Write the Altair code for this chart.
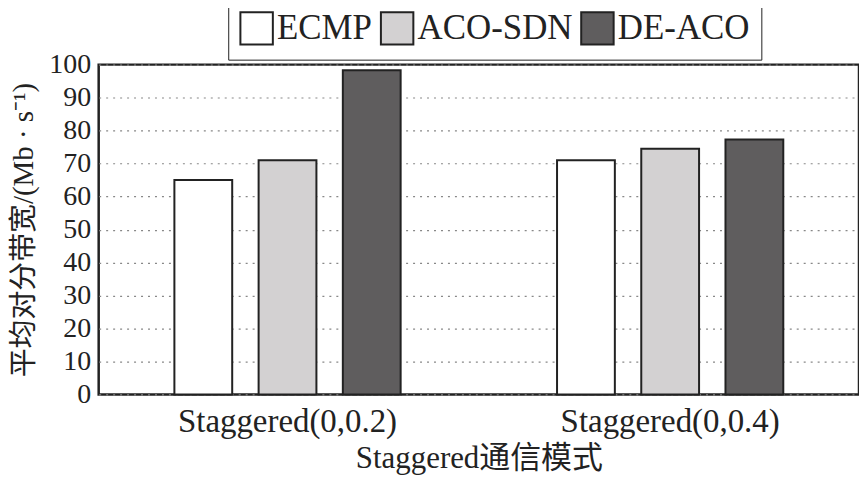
import altair as alt
import pandas as pd

groups = ["Staggered(0,0.2)", "Staggered(0,0.4)"]
methods = ["ECMP", "ACO-SDN", "DE-ACO"]
ecmp = [65, 71]
aco_sdn = [71, 74.5]
de_aco = [98.3, 77.3]
colors = ["#ffffff", "#d3d1d2", "#5f5d5e"]

rows = []
for i, g in enumerate(groups):
    for m, vals in zip(methods, [ecmp, aco_sdn, de_aco]):
        rows.append({"group": g, "method": m, "value": vals[i]})
df = pd.DataFrame(rows)

FONT = "'Liberation Serif', 'Noto Sans CJK SC', serif"

chart = alt.Chart(df).mark_bar(stroke="#222222", strokeWidth=2).encode(
    x=alt.X("group:N", sort=groups,
            scale=alt.Scale(paddingInner=0.013, paddingOuter=0),
            axis=alt.Axis(title="Staggered通信模式", labelAngle=0, ticks=False,
                          domain=False, labelPadding=11, titlePadding=5,
                          labelFontSize=33, titleFontSize=31, labelFont=FONT,
                          titleFont=FONT, titleFontWeight="normal",
                          labelColor="#222", titleColor="#222", labelLimit=400)),
    xOffset=alt.XOffset("method:N", sort=methods,
                        scale=alt.Scale(paddingInner=0.3136, paddingOuter=0.899)),
    y=alt.Y("value:Q", scale=alt.Scale(domain=[0, 100], nice=False),
            axis=alt.Axis(title="平均对分带宽/(Mb · s⁻¹)", values=list(range(0, 101, 10)),
                          ticks=False, domain=False, labelPadding=8,
                          labelFontSize=28, titleFontSize=29, labelFont=FONT,
                          titleFont=FONT, titleFontWeight="normal", titlePadding=10,
                          labelColor="#222", titleColor="#222",
                          grid=True, gridDash=[2, 5], gridColor="#888",
                          gridWidth=1.2)),
    fill=alt.Fill("method:N", sort=methods,
                  scale=alt.Scale(domain=methods, range=colors),
                  legend=alt.Legend(title=None, orient="none", legendX=130, legendY=-65,
                                    direction="horizontal", columns=3,
                                    symbolType="square", symbolSize=1060,
                                    symbolStrokeColor="#222", symbolStrokeWidth=2,
                                    labelFontSize=35, labelFont=FONT, labelColor="#222",
                                    columnPadding=4, labelOffset=3,
                                    strokeColor="#222", padding=11,
                                    symbolOpacity=1)),
).properties(
    width=763, height=331,
    autosize=alt.AutoSizeParams(type="none"),
    padding={"left": 91, "top": 56, "right": 0, "bottom": 81},
).configure(font=FONT).configure_view(stroke="#222222", strokeWidth=2.5)

chart.save("out.html", embed_options={"renderer": "svg", "actions": False})
